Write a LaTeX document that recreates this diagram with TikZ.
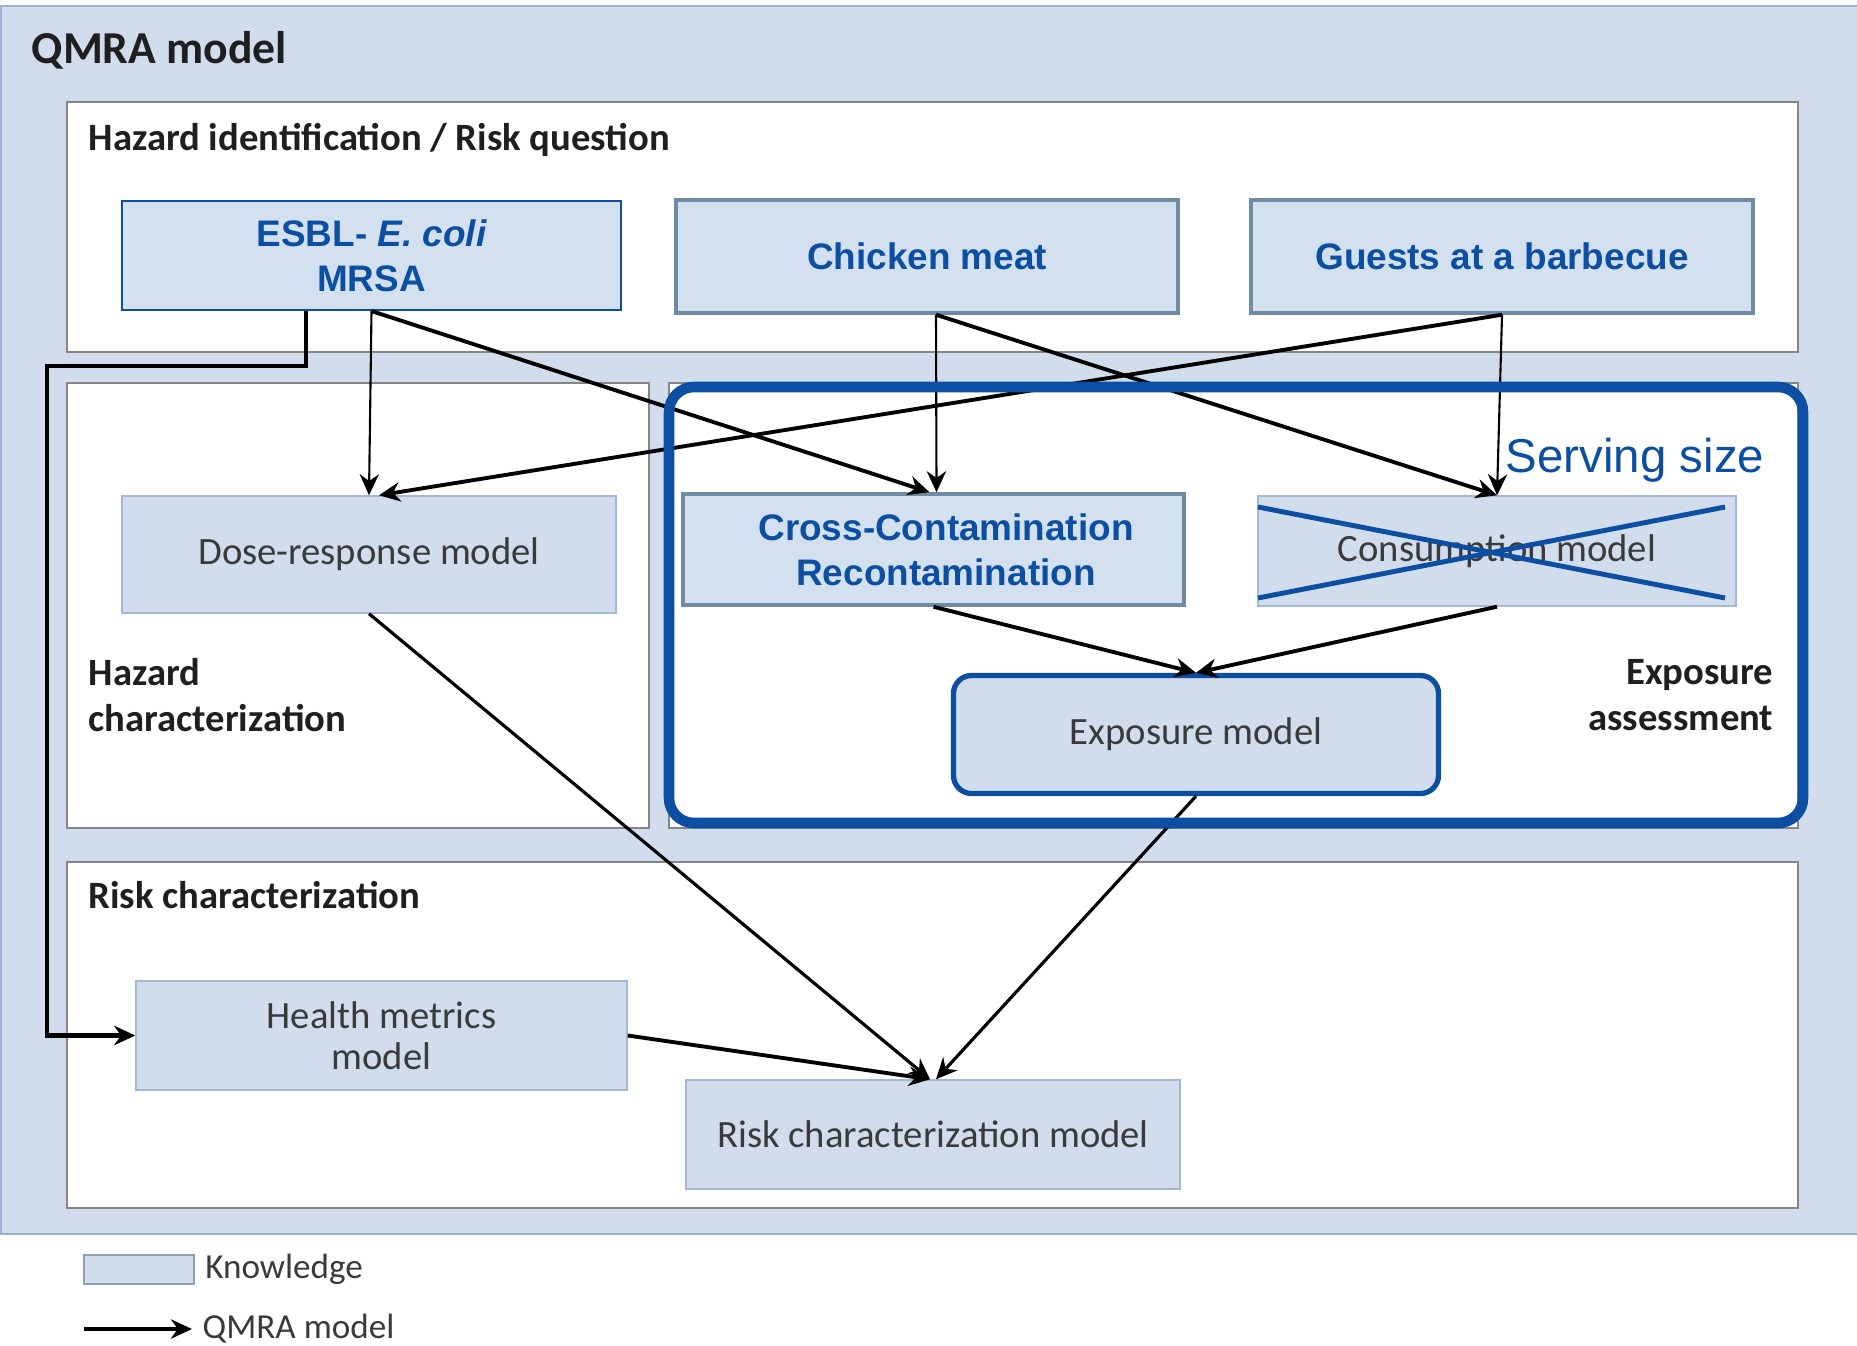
\documentclass[tikz,border=0pt]{standalone}
\usepackage{fontspec}
\setmainfont{Carlito}
\newfontfamily\arialfont{Liberation Sans}
\usepackage{xcolor}
\definecolor{qmrabg}{HTML}{D1DDEC}
\definecolor{outerline}{HTML}{9CB3D3}
\definecolor{panelline}{HTML}{858585}
\definecolor{knowfill}{HTML}{D1DCEC}
\definecolor{knowline}{HTML}{A3B8D2}
\definecolor{inputfill}{HTML}{D2E0EF}
\definecolor{hazline}{HTML}{6E8BA3}
\definecolor{qblue}{HTML}{0B4EA2}
\definecolor{textgray}{HTML}{3A3A3A}
\usepackage{tikz}
\usetikzlibrary{arrows.meta, positioning}

\begin{document}
\begin{tikzpicture}[x=1cm, y=-1cm,
  every node/.style={font=\fontsize{11}{13}\selectfont},
  panel/.style={draw=panelline, fill=white, line width=0.5pt},
  know/.style={rectangle, draw=knowline, fill=knowfill, text=textgray,
               align=center, inner sep=0pt, font=\fontsize{11}{11.6}\selectfont},
  input/.style={rectangle, draw=hazline, fill=inputfill, line width=1pt,
                text=qblue, align=center, inner sep=0pt,
                font=\arialfont\bfseries\fontsize{10.5}{12.8}\selectfont},
  seclabel/.style={font=\bfseries\fontsize{11}{13.2}\selectfont, text=black!88,
                   inner sep=0pt},
  legtext/.style={font=\fontsize{10}{12}\selectfont, text=textgray, inner sep=0pt},
  link/.style={-{Stealth[length=6pt, width=5.5pt]}, line width=0.6pt},
  boldlink/.style={link, line width=1.1pt}
]
  \useasboundingbox (0,0) rectangle (18.57,13.46);
  \fill[white] (0,0) rectangle (18.57,13.46);
  \draw[fill=qmrabg, draw=outerline, line width=0.8pt] (0.01,0.06) rectangle (18.70,12.34);

  % stages of the model
  \draw[panel] (0.67,1.02) rectangle (17.98,3.52);
  \draw[panel] (0.67,3.83) rectangle (6.49,8.28);
  \draw[panel] (6.69,3.83) rectangle (17.98,8.28);
  \draw[panel] (0.67,8.62) rectangle (17.98,12.08);

  \node[seclabel, anchor=west, font=\bfseries\fontsize{13}{15}\selectfont] at (0.31,0.50) {QMRA model};
  \node[seclabel, anchor=west] at (0.88,1.40) {Hazard identification / Risk question};
  \node[seclabel, anchor=west, align=left] at (0.88,6.95) {Hazard\\characterization};
  \node[seclabel, anchor=east, align=right] at (17.74,6.95) {Exposure\\assessment};
  \node[seclabel, anchor=west] at (0.88,8.95) {Risk characterization};

  % risk question
  \node[input, draw=qblue, line width=0.6pt, minimum width=4.99cm, minimum height=1.09cm]
    (esbl) at (3.715,2.555) {ESBL- {\itshape E. coli}\\MRSA};
  \node[input, minimum width=5.02cm, minimum height=1.13cm] (chicken) at (9.27,2.565) {Chicken meat};
  \node[input, minimum width=5.02cm, minimum height=1.13cm] (guests) at (15.02,2.565) {Guests at a barbecue};

  % models
  \node[know, minimum width=4.94cm, minimum height=1.17cm] (dose) at (3.69,5.545) {Dose-response model};
  \node[input, minimum width=5.01cm, minimum height=1.11cm] (cross) at (9.335,5.495)
    {\hspace*{0.25cm}Cross-Contamination\\\hspace*{0.25cm}Recontamination};
  \node[know, minimum width=4.78cm, minimum height=1.10cm] (consump) at (14.97,5.51) {Consumption model};
  \node[know, draw=qblue, line width=1.5pt, rounded corners=0.18cm,
        minimum width=4.85cm, minimum height=1.18cm] (expo) at (11.96,7.345) {Exposure model};
  \node[know, minimum width=4.91cm, minimum height=1.09cm] (health) at (3.815,10.355) {Health metrics\\model};
  \node[know, minimum width=4.94cm, minimum height=1.09cm] (riskmodel) at (9.33,11.345)
    {Risk characterization model};

  % connectors
  \coordinate (bend) at (0.47,3.66);
  \draw[boldlink, line width=1.3pt] ([xshift=-0.655cm]esbl.south) |- (bend) |- (health.west);
  \draw[link] (esbl.south) -- (dose.north);
  \draw[boldlink] (esbl.south) -- ([xshift=-0.04cm]cross.north);
  \draw[link] ([xshift=0.09cm]chicken.south) -- ([xshift=0.03cm]cross.north);
  \draw[boldlink] ([xshift=0.09cm]chicken.south) -- (consump.north);
  \draw[boldlink] (guests.south) -- ([xshift=0.1cm]dose.north);
  \draw[link] (guests.south) -- (consump.north);
  \draw[boldlink] (cross.south) -- (expo.north);
  \draw[boldlink] (consump.south) -- (expo.north);
  \draw[link, line width=0.9pt] (dose.south) -- ([xshift=-0.03cm]riskmodel.north);
  \draw[link, line width=0.9pt] (expo.south) -- ([xshift=0.03cm]riskmodel.north);
  \draw[boldlink] (health.east) -- ([xshift=-0.03cm]riskmodel.north);

  % highlighted exposure assessment
  \draw[qblue, line width=3pt, rounded corners=0.25cm] (6.69,3.87) rectangle (18.03,8.23);
  \draw[qblue, line width=1.4pt] (12.58,5.07) -- (17.25,5.98);
  \draw[qblue, line width=1.4pt] (12.58,5.98) -- (17.25,5.07);
  \node[text=qblue, font=\arialfont\fontsize{13.5}{15}\selectfont] (serving) at (16.35,4.60) {Serving size};

  % legend
  \node[know, draw=hazline!80, minimum width=1.10cm, minimum height=0.29cm] (legbox) at (1.39,12.695) {};
  \node[legtext, right=0.1cm of legbox] {Knowledge};
  \coordinate (legtail) at (0.84,13.29);
  \coordinate (leghead) at (1.92,13.29);
  \draw[boldlink, line width=1.4pt] (legtail) -- (leghead);
  \node[legtext, right=0.1cm of leghead] {QMRA model};
\end{tikzpicture}
\end{document}
